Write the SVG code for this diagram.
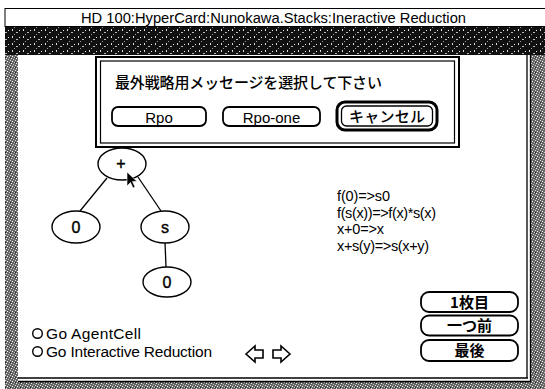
<svg xmlns="http://www.w3.org/2000/svg" width="545" height="389" viewBox="0 0 545 389">
<style>
.t{font-family:"Liberation Sans","Noto Sans CJK JP",sans-serif;fill:#000}
.j{font-family:"Noto Sans CJK JP","Liberation Sans",sans-serif;fill:#000}
.ln{stroke:#000;stroke-width:1.3;fill:none}
.nd{fill:#fff;stroke:#000;stroke-width:1.4}
.btn{fill:#fff;stroke:#000;stroke-width:1.8}
.lb{font-size:16px;text-anchor:middle;stroke:#000;stroke-width:0.4}
</style>
<defs>
<pattern id="dark" width="11" height="7" patternUnits="userSpaceOnUse">
<rect width="11" height="7" fill="#111"/>
<rect x="1" y="1" width="1" height="2" fill="#ddd"/>
<rect x="5" y="4" width="2" height="1" fill="#bbb"/>
<rect x="8" y="2" width="1" height="1" fill="#eee"/>
<rect x="3" y="6" width="1" height="1" fill="#999"/>
</pattern>
<pattern id="gray" width="5" height="5" patternUnits="userSpaceOnUse">
<rect width="5" height="5" fill="#666"/>
<rect x="0" y="0" width="1" height="1" fill="#ddd"/>
<rect x="2" y="1" width="1" height="1" fill="#fff"/>
<rect x="4" y="2" width="1" height="1" fill="#ccc"/>
<rect x="1" y="3" width="1" height="1" fill="#eee"/>
<rect x="3" y="4" width="1" height="1" fill="#bbb"/>
<rect x="0" y="2" width="1" height="1" fill="#222"/>
</pattern>
</defs>
<rect width="545" height="389" fill="#fff"/>
<g id="frame">
<rect x="5" y="27" width="540" height="362" fill="url(#gray)"/>
<rect x="5" y="27" width="540" height="28" fill="url(#dark)"/>
<rect x="18" y="55" width="513" height="327" fill="#fff"/>
<line x1="18" y1="378" x2="528" y2="378" class="ln"/>
<line x1="18" y1="381.5" x2="531" y2="381.5" class="ln"/>
<line x1="527" y1="55" x2="527" y2="378" class="ln"/>
<line x1="530.5" y1="55" x2="530.5" y2="381.5" class="ln"/>
<rect x="5" y="8.5" width="545" height="18" fill="#fff" stroke="#000" stroke-width="1"/>
<text class="t" x="81" y="22.5" font-size="15.5" textLength="385" lengthAdjust="spacingAndGlyphs">HD 100:HyperCard:Nunokawa.Stacks:Ineractive Reduction</text>
</g>
<g id="connectors">
<line x1="107" y1="178" x2="80" y2="211" class="ln"/>
<line x1="138" y1="177" x2="161" y2="211" class="ln"/>
<line x1="165" y1="242" x2="166" y2="267" class="ln"/>
</g>
<g id="node-plus">
<ellipse cx="122" cy="164" rx="24" ry="16" class="nd"/>
<text class="t lb" x="121" y="169">+</text>
</g>
<g id="node-zero-left">
<ellipse cx="76" cy="227" rx="24" ry="16" class="nd"/>
<text class="t lb" x="76" y="233">0</text>
</g>
<g id="node-s">
<ellipse cx="165" cy="227" rx="24" ry="16" class="nd"/>
<text class="t lb" x="165" y="233">s</text>
</g>
<g id="node-zero-bottom">
<ellipse cx="167" cy="282" rx="24" ry="15" class="nd"/>
<text class="t lb" x="167" y="288">0</text>
</g>
<g id="cursor">
<polygon points="127,172 127,186 130.5,182.5 133,188 135,187 132.5,181.5 137,181.5" fill="#000" stroke="#fff" stroke-width="0.6"/>
</g>
<g id="rules">
<text class="t" x="337" y="201" font-size="14.5" textLength="53">f(0)=&gt;s0</text>
<text class="t" x="337" y="217.5" font-size="14.5" textLength="99">f(s(x))=&gt;f(x)*s(x)</text>
<text class="t" x="337" y="234" font-size="14.5" textLength="47">x+0=&gt;x</text>
<text class="t" x="337" y="250.5" font-size="14.5" textLength="92">x+s(y)=&gt;s(x+y)</text>
</g>
<g id="dialog">
<rect x="96" y="57" width="363" height="90" fill="#fff" stroke="#000" stroke-width="2"/>
<rect x="100.5" y="61" width="354" height="82" fill="none" stroke="#000" stroke-width="1.2"/>
<text class="j" x="115" y="88" font-size="15" font-weight="500" textLength="267">最外戦略用メッセージを選択して下さい</text>
<g id="btn-rpo">
<rect x="112" y="107" width="94" height="19" rx="6" class="btn"/>
<text class="t" x="159" y="122.5" font-size="15" text-anchor="middle">Rpo</text>
</g>
<g id="btn-rpo-one">
<rect x="223" y="107" width="97" height="19" rx="6" class="btn"/>
<text class="t" x="271.5" y="122.5" font-size="15" text-anchor="middle">Rpo-one</text>
</g>
<g id="btn-cancel">
<rect x="337" y="102" width="100" height="28" rx="8" fill="#fff" stroke="#000" stroke-width="3"/>
<rect x="341.5" y="106" width="91" height="20" rx="5" fill="none" stroke="#000" stroke-width="1.3"/>
<text class="j" x="387" y="122" font-size="15" font-weight="500" text-anchor="middle" textLength="76">キャンセル</text>
</g>
</g>
<g id="radio-agentcell">
<circle cx="37.5" cy="333.5" r="4.8" fill="#fff" stroke="#000" stroke-width="1.4"/>
<text class="t" x="46" y="339" font-size="15.5" textLength="95">Go AgentCell</text>
</g>
<g id="radio-interactive">
<circle cx="37.5" cy="351.5" r="4.8" fill="#fff" stroke="#000" stroke-width="1.4"/>
<text class="t" x="46" y="357" font-size="15.5" textLength="166">Go Interactive Reduction</text>
</g>
<g id="nav-arrows">
<polygon points="246,354 255,346 255,350 263,350 263,358 255,358 255,362" fill="#fff" stroke="#000" stroke-width="1.6"/>
<polygon points="290,354 281,346 281,350 273,350 273,358 281,358 281,362" fill="#fff" stroke="#000" stroke-width="1.6"/>
</g>
<g id="btn-first">
<rect x="421" y="292" width="97" height="20" rx="8" class="btn"/>
<text class="j" x="469.5" y="307.5" font-size="15" text-anchor="middle" font-weight="bold">1枚目</text>
</g>
<g id="btn-prev">
<rect x="421" y="315.5" width="97" height="20" rx="8" class="btn"/>
<text class="j" x="469.5" y="331" font-size="15" text-anchor="middle" font-weight="bold">一つ前</text>
</g>
<g id="btn-last">
<rect x="421" y="340" width="97" height="21" rx="8" class="btn"/>
<text class="j" x="469.5" y="356" font-size="15" text-anchor="middle" font-weight="bold">最後</text>
</g>
</svg>
